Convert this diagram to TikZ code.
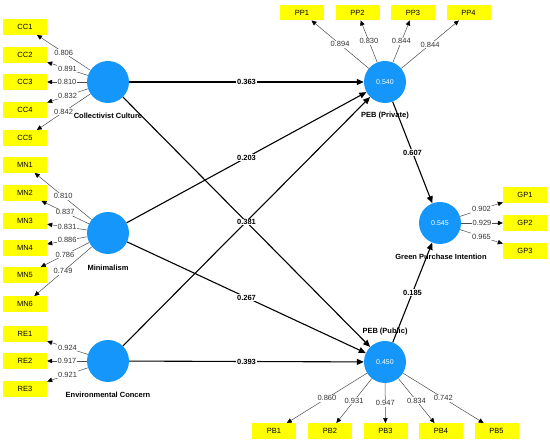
\documentclass[tikz,border=0pt]{standalone}
\usepackage{fontspec}
\setmainfont{Liberation Sans}
\usetikzlibrary{arrows.meta}
\definecolor{lvblue}{RGB}{20,150,250}
\definecolor{indyel}{RGB}{255,255,0}
\begin{document}
\begin{tikzpicture}[x=1pt,y=-1pt,
  lv/.style={circle,fill=lvblue,minimum size=42pt,inner sep=0pt,text=white,font=\fontsize{7}{8}\selectfont},
  ind/.style={rectangle,fill=indyel,minimum width=44pt,minimum height=15.5pt,inner sep=0pt,font=\fontsize{7.5}{9}\selectfont},
  lvname/.style={font=\bfseries\fontsize{7.5}{9}\selectfont,inner sep=1pt},
  load/.style={draw=black!70,line width=0.5pt,-{Triangle[length=5pt,width=4.5pt,color=black]}},
  loadlab/.style={fill=white,inner sep=0.8pt,font=\fontsize{7.5}{9}\selectfont,text=black!80},
  struct/.style={draw=black,line width=1.1pt,-{Triangle[length=7pt,width=6pt]}},
  pathlab/.style={fill=white,inner sep=0.8pt,font=\bfseries\fontsize{7.5}{9}\selectfont},
]
\useasboundingbox (0,0) rectangle (550,443);
% latent variables
\node[lv] (CC) at (108,82) {};
\node[lv] (MN) at (108,233) {};
\node[lv] (EC) at (108,361) {};
\node[lv] (PRV) at (385,82) {0.540};
\node[lv] (GPI) at (440,223) {0.545};
\node[lv] (PUB) at (385,362) {0.450};
% names
\node[lvname] (CCn) at (108,116) {Collectivist Culture};
\node[lvname] (MNn) at (108,268) {Minimalism};
\node[lvname] (ECn) at (108,395) {Environmental Concern};
\node[lvname] (PRVn) at (385,116) {PEB (Private)};
\node[lvname] (GPIn) at (441,257) {Green Purchase Intention};
\node[lvname] (PUBn) at (385,332) {PEB (Public)};
% indicators
\node[ind] (CC1) at (25,27) {CC1};
\node[ind] (CC2) at (25,55) {CC2};
\node[ind] (CC3) at (25,82) {CC3};
\node[ind] (CC4) at (25,110) {CC4};
\node[ind] (CC5) at (25,138) {CC5};
\node[ind] (MN1) at (25,165) {MN1};
\node[ind] (MN2) at (25,193) {MN2};
\node[ind] (MN3) at (25,221) {MN3};
\node[ind] (MN4) at (25,248) {MN4};
\node[ind] (MN5) at (25,275) {MN5};
\node[ind] (MN6) at (25,304) {MN6};
\node[ind] (RE1) at (25,334) {RE1};
\node[ind] (RE2) at (25,361) {RE2};
\node[ind] (RE3) at (25,389) {RE3};
\node[ind] (PP1) at (302,12.5) {PP1};
\node[ind] (PP2) at (357.5,12.5) {PP2};
\node[ind] (PP3) at (413,12.5) {PP3};
\node[ind] (PP4) at (468.5,12.5) {PP4};
\node[ind] (GP1) at (525,195) {GP1};
\node[ind] (GP2) at (525,223) {GP2};
\node[ind] (GP3) at (525,251) {GP3};
\node[ind] (PB1) at (274,431) {PB1};
\node[ind] (PB2) at (330,431) {PB2};
\node[ind] (PB3) at (385.5,431) {PB3};
\node[ind] (PB4) at (441,431) {PB4};
\node[ind] (PB5) at (496.5,431) {PB5};
% loadings
\draw[load] (CC) -- node[loadlab] {0.806} (CC1);
\draw[load] (CC) -- node[loadlab] {0.891} (CC2);
\draw[load] (CC) -- node[loadlab] {0.810} (CC3);
\draw[load] (CC) -- node[loadlab] {0.832} (CC4);
\draw[load] (CC) -- node[loadlab] {0.842} (CC5);
\draw[load] (MN) -- node[loadlab] {0.810} (MN1);
\draw[load] (MN) -- node[loadlab] {0.837} (MN2);
\draw[load] (MN) -- node[loadlab] {0.831} (MN3);
\draw[load] (MN) -- node[loadlab] {0.886} (MN4);
\draw[load] (MN) -- node[loadlab] {0.786} (MN5);
\draw[load] (MN) -- node[loadlab] {0.749} (MN6);
\draw[load] (EC) -- node[loadlab] {0.924} (RE1);
\draw[load] (EC) -- node[loadlab] {0.917} (RE2);
\draw[load] (EC) -- node[loadlab] {0.921} (RE3);
\draw[load] (PRV) -- node[loadlab] {0.894} (PP1);
\draw[load] (PRV) -- node[loadlab] {0.830} (PP2);
\draw[load] (PRV) -- node[loadlab] {0.844} (PP3);
\draw[load] (PRV) -- node[loadlab] {0.844} (PP4);
\draw[load] (GPI) -- node[loadlab] {0.902} (GP1);
\draw[load] (GPI) -- node[loadlab] {0.929} (GP2);
\draw[load] (GPI) -- node[loadlab] {0.965} (GP3);
\draw[load] (PUB) -- node[loadlab] {0.860} (PB1);
\draw[load] (PUB) -- node[loadlab] {0.931} (PB2);
\draw[load] (PUB) -- node[loadlab] {0.947} (PB3);
\draw[load] (PUB) -- node[loadlab] {0.834} (PB4);
\draw[load] (PUB) -- node[loadlab] {0.742} (PB5);
% structural paths
\draw[struct] (CC) -- node[pathlab] {0.363} (PRV);
\draw[struct] (MN) -- node[pathlab] {0.203} (PRV);
\draw[struct] (EC) -- (PRV);
\draw[struct] (CC) -- node[pathlab] {0.381} (PUB);
\draw[struct] (MN) -- node[pathlab] {0.267} (PUB);
\draw[struct] (EC) -- node[pathlab] {0.393} (PUB);
\draw[struct] (PRV) -- node[pathlab] {0.607} (GPI);
\draw[struct] (PUB) -- node[pathlab] {0.185} (GPI);
\end{tikzpicture}
\end{document}
